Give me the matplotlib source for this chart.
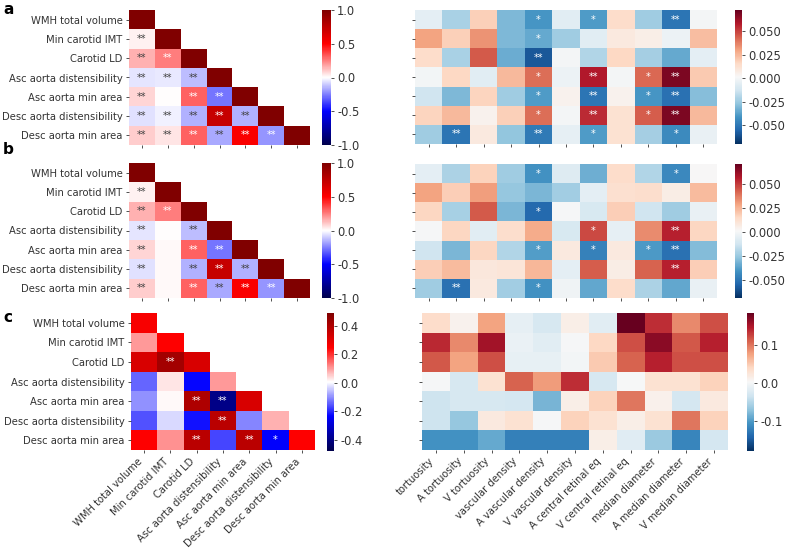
import numpy as np
import matplotlib
matplotlib.use('Agg')
import matplotlib.pyplot as plt
from matplotlib.colors import Normalize, to_rgb

# ---- labels ----
vessel_labels = ['WMH total volume', 'Min carotid IMT', 'Carotid LD',
                 'Asc aorta distensibility', 'Asc aorta min area',
                 'Desc aorta distensibility', 'Desc aorta min area']
retina_labels = ['tortuosity', 'A tortuosity', 'V tortuosity', 'vascular density',
                 'A vascular density', 'V vascular density', 'A central retinal eq',
                 'V central retinal eq', 'median diameter', 'A median diameter',
                 'V median diameter']

# ---- left panels: lower triangle (row by row) ----
corr_a = [
    [1.0],
    [0.03, 1.0],
    [0.15, 0.25, 1.0],
    [-0.05, -0.04, -0.13, 1.0],
    [0.08, 0.0, 0.31, -0.27, 1.0],
    [-0.06, -0.03, -0.15, 0.72, -0.15, 1.0],
    [0.10, 0.05, 0.31, -0.17, 0.52, -0.21, 1.0],
]
stars_a = [
    [''],
    ['**', ''],
    ['**', '**', ''],
    ['**', '**', '**', ''],
    ['**', '', '**', '**', ''],
    ['**', '**', '**', '**', '**', ''],
    ['**', '**', '**', '**', '**', '**', ''],
]
corr_b = [
    [1.0],
    [0.03, 1.0],
    [0.15, 0.25, 1.0],
    [-0.05, 0.0, -0.13, 1.0],
    [0.08, 0.01, 0.31, -0.27, 1.0],
    [-0.06, 0.01, -0.15, 0.72, -0.15, 1.0],
    [0.10, 0.01, 0.31, -0.17, 0.52, -0.21, 1.0],
]
stars_b = [
    [''],
    ['**', ''],
    ['**', '**', ''],
    ['**', '', '**', ''],
    ['**', '', '**', '**', ''],
    ['**', '', '**', '**', '**', ''],
    ['**', '', '**', '**', '**', '**', ''],
]
corr_c = [
    [0.26],
    [0.10, 0.25],
    [0.32, 0.42, 0.32],
    [-0.14, 0.03, -0.23, 0.10],
    [-0.10, 0.01, 0.40, -0.40, 0.32],
    [-0.16, -0.03, -0.22, 0.38, -0.11, 0.08],
    [0.25, 0.11, 0.38, -0.17, 0.38, -0.24, 0.25],
]
stars_c = [
    [''],
    ['', ''],
    ['', '**', ''],
    ['', '', '', ''],
    ['', '', '**', '**', ''],
    ['', '', '', '**', '', ''],
    ['', '', '**', '', '**', '*', ''],
]

# ---- right panels: 7 vessel traits x 11 retinal traits ----
ret_a = [
    [-0.006, -0.022, 0.018, -0.031, -0.041, -0.007, -0.039, 0.014, -0.024, -0.051, 0.000],
    [0.030, 0.018, 0.033, -0.031, -0.035, -0.024, -0.007, 0.008, 0.006, -0.003, 0.023],
    [0.014, -0.022, 0.045, -0.034, -0.059, 0.000, -0.020, 0.016, -0.023, -0.035, -0.006],
    [-0.001, 0.016, -0.007, 0.024, 0.041, -0.003, 0.058, 0.000, 0.042, 0.068, 0.020],
    [-0.013, -0.031, 0.017, -0.024, -0.039, 0.004, -0.051, 0.004, -0.041, -0.052, -0.029],
    [0.017, 0.024, 0.004, 0.018, 0.041, 0.000, 0.054, 0.012, 0.044, 0.068, 0.024],
    [-0.024, -0.051, 0.008, -0.027, -0.049, -0.005, -0.039, 0.012, -0.023, -0.044, -0.004],
]
ret_stars_a = [
    ['', '', '', '', '*', '', '*', '', '', '**', ''],
    ['', '', '', '', '*', '', '', '', '', '', ''],
    ['', '', '', '', '**', '', '', '', '', '', ''],
    ['', '', '', '', '*', '', '**', '', '*', '**', ''],
    ['', '', '', '', '*', '', '**', '', '*', '**', ''],
    ['', '', '', '', '*', '', '**', '', '*', '**', ''],
    ['', '**', '', '', '**', '', '*', '', '', '*', ''],
]
ret_b = [
    [-0.006, -0.021, 0.017, -0.024, -0.041, -0.008, -0.033, 0.014, -0.020, -0.044, 0.001],
    [0.029, 0.018, 0.030, -0.026, -0.031, -0.023, -0.006, 0.012, 0.013, 0.006, 0.023],
    [0.016, -0.022, 0.044, -0.031, -0.053, 0.000, -0.010, 0.018, -0.013, -0.024, -0.004],
    [0.000, 0.016, -0.007, 0.013, 0.027, -0.010, 0.047, -0.005, 0.034, 0.055, 0.016],
    [-0.013, -0.031, 0.016, -0.020, -0.038, 0.008, -0.046, 0.008, -0.039, -0.051, -0.029],
    [0.018, 0.023, 0.009, 0.010, 0.024, -0.006, 0.043, 0.006, 0.042, 0.055, 0.018],
    [-0.024, -0.051, 0.008, -0.023, -0.041, -0.002, -0.035, 0.014, -0.021, -0.035, -0.004],
]
ret_stars_b = [
    ['', '', '', '', '*', '', '', '', '', '*', ''],
    ['', '', '', '', '', '', '', '', '', '', ''],
    ['', '', '', '', '*', '', '', '', '', '', ''],
    ['', '', '', '', '', '', '*', '', '', '**', ''],
    ['', '', '', '', '*', '', '*', '', '*', '**', ''],
    ['', '', '', '', '', '', '', '', '', '**', ''],
    ['', '**', '', '', '*', '', '', '', '', '', ''],
]
ret_c = [
    [0.036, 0.011, 0.076, -0.014, -0.028, 0.015, -0.018, 0.184, 0.137, 0.090, 0.120],
    [0.140, 0.090, 0.155, -0.010, -0.018, 0.000, 0.040, 0.120, 0.166, 0.115, 0.144],
    [0.115, 0.076, 0.120, -0.012, -0.012, -0.002, 0.050, 0.110, 0.144, 0.120, 0.120],
    [0.000, -0.028, 0.030, 0.110, 0.080, 0.137, -0.028, 0.002, 0.030, 0.030, 0.045],
    [-0.035, -0.028, -0.028, -0.030, -0.082, 0.015, 0.045, 0.100, 0.012, -0.030, 0.020],
    [-0.035, -0.068, 0.020, 0.030, 0.000, 0.045, 0.030, 0.015, 0.030, 0.100, 0.045],
    [-0.107, -0.107, -0.090, -0.122, -0.122, -0.122, 0.015, -0.020, -0.065, -0.118, -0.030],
]

W, H = 786, 552
fig = plt.figure(figsize=(W / 100, H / 100), dpi=100)
FS = 7.2


def box(x0, y0, x1, y1):
    # pixel box -> figure fraction rect
    return [x0 / W, 1 - y1 / H, (x1 - x0) / W, (y1 - y0) / H]


def to_matrix(rows, n):
    m = np.full((len(rows), n), np.nan)
    for i, r in enumerate(rows):
        m[i, :len(r)] = r
    return m


def luminance(c):
    rgb = np.array(to_rgb(c))
    rgb = np.where(rgb <= 0.03928, rgb / 12.92, ((rgb + 0.055) / 1.055) ** 2.4)
    return rgb.dot([0.2126, 0.7152, 0.0722])


def heat(ax, cax, data, stars, cmap, vmin, vmax, ticks, fmt, xlabels=None, ylabels=None):
    data = np.ma.masked_invalid(data)
    norm = Normalize(vmin, vmax)
    nr, nc = data.shape
    mesh = ax.pcolormesh(np.arange(nc + 1), np.arange(nr + 1), data, cmap=cmap, norm=norm)
    ax.set_xlim(0, nc)
    ax.set_ylim(nr, 0)
    for s in ax.spines.values():
        s.set_visible(False)
    ax.set_xticks(np.arange(nc) + 0.5)
    ax.set_yticks(np.arange(nr) + 0.5)
    ax.tick_params(length=2.5, width=0.6, labelsize=FS, pad=2, colors='0.2')
    if xlabels is None:
        ax.set_xticklabels([])
    else:
        ax.set_xticklabels(xlabels, rotation=45, ha='right')
    if ylabels is None:
        ax.set_yticklabels([])
    else:
        ax.set_yticklabels(ylabels)
    cm = plt.get_cmap(cmap)
    for i, row in enumerate(stars):
        for j, s in enumerate(row):
            if s:
                col = '0.25' if luminance(cm(norm(data[i, j]))) > 0.408 else 'white'
                ax.text(j + 0.5, i + 0.5, s, ha='center', va='center', fontsize=7, color=col)
    cb = fig.colorbar(mesh, cax=cax, ticks=ticks, format=fmt)
    cb.outline.set_visible(False)
    cb.ax.tick_params(labelsize=8.3, length=2.5, width=0.6, pad=2, colors='0.2')
    return mesh


ylab_kw = dict(ylabels=vessel_labels)
tri_ticks = [-1.0, -0.5, 0.0, 0.5, 1.0]
ret_ticks = [-0.05, -0.025, 0.0, 0.025, 0.05]

# row a
ax = fig.add_axes(box(129, 10, 310, 145))
cax = fig.add_axes(box(322, 10, 331, 145))
heat(ax, cax, to_matrix(corr_a, 7), stars_a, 'seismic', -1, 1, tri_ticks, '%.1f', **ylab_kw)
ax = fig.add_axes(box(415, 10, 717, 144))
cax = fig.add_axes(box(735, 10, 742, 144))
heat(ax, cax, np.array(ret_a), ret_stars_a, 'RdBu_r', -0.070, 0.0723, ret_ticks, '%.3f')

# row b
ax = fig.add_axes(box(129, 163, 310, 298))
cax = fig.add_axes(box(322, 163, 331, 298))
heat(ax, cax, to_matrix(corr_b, 7), stars_b, 'seismic', -1, 1, tri_ticks, '%.1f', **ylab_kw)
ax = fig.add_axes(box(415, 164, 717, 298))
cax = fig.add_axes(box(735, 164, 742, 298))
heat(ax, cax, np.array(ret_b), ret_stars_b, 'RdBu_r', -0.0688, 0.0708, ret_ticks, '%.3f')

# row c
ax = fig.add_axes(box(131, 313, 315, 450))
cax = fig.add_axes(box(327, 313, 334, 451))
heat(ax, cax, to_matrix(corr_c, 7), stars_c, 'seismic', -0.48, 0.49,
     [-0.4, -0.2, 0.0, 0.2, 0.4], '%.1f', xlabels=vessel_labels, **ylab_kw)
ax = fig.add_axes(box(422, 313, 728, 450))
cax = fig.add_axes(box(747, 313, 754, 451))
heat(ax, cax, np.array(ret_c), [], 'RdBu_r', -0.179, 0.184,
     [-0.1, 0.0, 0.1], '%.1f', xlabels=retina_labels)

# panel letters
for letter, y in [('a', 10), ('b', 149), ('c', 318)]:
    fig.text(3 / W, 1 - y / H, letter, fontsize=11, fontweight='bold', va='center')

fig.savefig('out.png', dpi=100)
